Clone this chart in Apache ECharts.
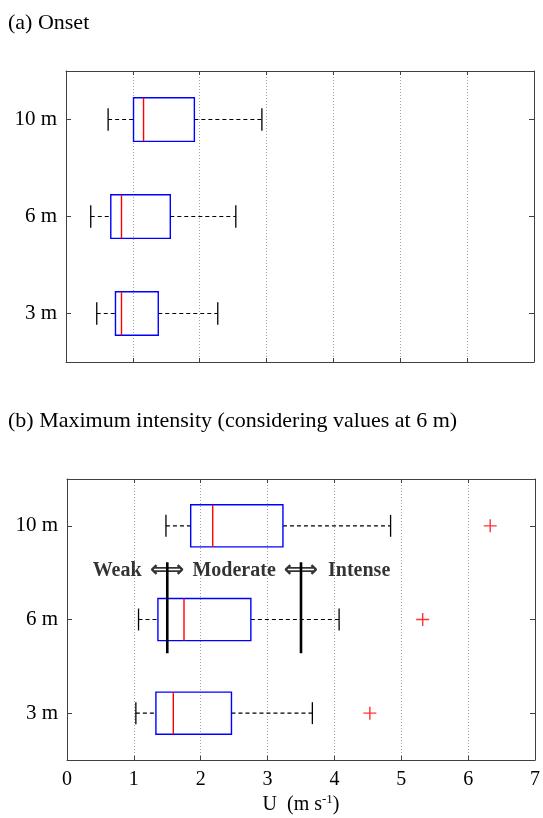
<!DOCTYPE html>
<html>
<head>
<meta charset="utf-8">
<script src="https://cdn.jsdelivr.net/npm/echarts@6/dist/echarts.min.js"></script>
<style>
  html, body { margin: 0; padding: 0; background: #ffffff; }
  #chart { width: 543px; height: 818px; }
</style>
</head>
<body>
<div id="chart"></div>
<script>
// Measurement heights (bottom to top on the category axis)
const heights = ['3 m', '6 m', '10 m'];

// Box statistics per height: [lower whisker, Q1, median, Q3, upper whisker], m/s
const onsetStats = [
  [0.46, 0.74, 0.83, 1.38, 2.27],
  [0.37, 0.67, 0.83, 1.56, 2.54],
  [0.63, 1.01, 1.16, 1.92, 2.93]
];
const peakStats = [
  [1.03, 1.33, 1.59, 2.46, 3.67],
  [1.07, 1.36, 1.75, 2.75, 4.07],
  [1.48, 1.85, 2.18, 3.23, 4.84]
];
// Outliers of the maximum-intensity distributions, one per height
const peakOutliers = [4.53, 5.32, 6.33];

// Intensity class limits (values at 6 m) and class names
const thresholds = [1.5, 3.5];
const classNames = ['Weak', 'Moderate', 'Intense'];

const SERIF = '"Liberation Serif", "Times New Roman", serif';
const FRAME = '#404040';

function boxRenderer(params, api) {
  const cat = api.value(0);
  const band = api.size([0, 1])[1];
  const bh = band * 0.225;   // half box height
  const ch = band * 0.117;   // half cap height
  const lo = api.coord([api.value(1), cat]);
  const q1 = api.coord([api.value(2), cat]);
  const md = api.coord([api.value(3), cat]);
  const q3 = api.coord([api.value(4), cat]);
  const hi = api.coord([api.value(5), cat]);
  const y = lo[1];
  const dashed = { stroke: '#000', lineWidth: 1.1, lineDash: [4, 3] };
  const solid = { stroke: '#000', lineWidth: 1.3 };
  return {
    type: 'group',
    children: [
      { type: 'line', shape: { x1: lo[0], y1: y, x2: q1[0], y2: y }, style: dashed },
      { type: 'line', shape: { x1: q3[0], y1: y, x2: hi[0], y2: y }, style: dashed },
      { type: 'line', shape: { x1: lo[0], y1: y - ch, x2: lo[0], y2: y + ch }, style: solid },
      { type: 'line', shape: { x1: hi[0], y1: y - ch, x2: hi[0], y2: y + ch }, style: solid },
      { type: 'rect', shape: { x: q1[0], y: y - bh, width: q3[0] - q1[0], height: 2 * bh },
        style: { fill: 'none', stroke: '#0000ff', lineWidth: 1.4 } },
      { type: 'line', shape: { x1: md[0], y1: y - bh, x2: md[0], y2: y + bh },
        style: { stroke: '#ff0000', lineWidth: 1.4 } }
    ]
  };
}

function valueAxis(gridIndex, position, showLabels) {
  return {
    type: 'value', gridIndex: gridIndex, position: position,
    min: 0, max: 7, interval: 1,
    axisLine: { show: true, onZero: false, lineStyle: { color: FRAME, width: 1 } },
    axisTick: { show: true, inside: true, length: 4, lineStyle: { color: FRAME } },
    axisLabel: showLabels
      ? { show: true, margin: 10, fontFamily: SERIF, fontSize: 20, color: '#000', showMaxLabel: true, showMinLabel: true }
      : { show: false },
    splitLine: position === 'bottom'
      ? { show: true, lineStyle: { color: '#a0a0a0', type: [1, 2], width: 1 } }
      : { show: false }
  };
}

function categoryAxis(gridIndex, position) {
  return {
    type: 'category', gridIndex: gridIndex, position: position,
    data: heights, boundaryGap: true,
    axisLine: { show: true, onZero: false, lineStyle: { color: FRAME, width: 1 } },
    axisTick: { show: true, inside: true, length: 5, alignWithLabel: true, lineStyle: { color: FRAME } },
    axisLabel: position === 'left'
      ? { show: true, margin: 9, fontFamily: SERIF, fontSize: 21, color: '#000' }
      : { show: false },
    splitLine: { show: false }
  };
}

const xAxis = [
  valueAxis(0, 'bottom', false),
  valueAxis(0, 'top', false),
  Object.assign(valueAxis(1, 'bottom', true), {
    name: '{n|U  (m s}{s|-1}{n|)}',
    nameLocation: 'middle',
    nameGap: 33,
    nameTextStyle: {
      rich: {
        n: { fontFamily: SERIF, fontSize: 20, color: '#000', lineHeight: 24 },
        s: { fontFamily: SERIF, fontSize: 13, color: '#000', lineHeight: 14, verticalAlign: 'top' }
      }
    }
  }),
  valueAxis(1, 'top', false)
];

const yAxis = [
  categoryAxis(0, 'left'),
  categoryAxis(0, 'right'),
  categoryAxis(1, 'left'),
  categoryAxis(1, 'right'),
  // continuous companion of the lower category axis (category i sits at i + 1)
  { type: 'value', gridIndex: 1, min: 0.5, max: 3.5, show: false }
];

const classLabelY = 2.52;
const classLabels = [
  { value: [0.75, classLabelY], name: classNames[0] },
  { value: [2.5, classLabelY], name: classNames[1] },
  { value: [4.37, classLabelY], name: classNames[2] }
];
const arrowLabels = thresholds.map(t => ({ value: [t, classLabelY], name: '\u27FA' }));

const series = [
  {
    type: 'custom', xAxisIndex: 0, yAxisIndex: 0,
    renderItem: boxRenderer,
    encode: { x: [1, 2, 3, 4, 5], y: 0 },
    data: onsetStats.map((s, i) => [i].concat(s)),
    z: 3
  },
  {
    type: 'custom', xAxisIndex: 2, yAxisIndex: 2,
    renderItem: boxRenderer,
    encode: { x: [1, 2, 3, 4, 5], y: 0 },
    data: peakStats.map((s, i) => [i].concat(s)),
    z: 3
  },
  {
    type: 'scatter', xAxisIndex: 2, yAxisIndex: 2,
    symbol: 'path://M0,5L10,5M5,0L5,10',
    symbolSize: 13,
    itemStyle: { color: 'none', borderColor: '#ff0000', borderWidth: 1.4 },
    data: peakOutliers.map((v, i) => [v, i]),
    z: 4
  }
].concat(thresholds.map(t => ({
  type: 'line', xAxisIndex: 2, yAxisIndex: 4,
  symbol: 'none',
  lineStyle: { color: '#000', width: 2.6 },
  data: [[t, 1.64], [t, 2.61]],
  z: 5
}))).concat([
  {
    type: 'scatter', xAxisIndex: 2, yAxisIndex: 4,
    symbolSize: 0,
    silent: true,
    label: {
      show: true, position: 'inside', formatter: '{b}',
      fontFamily: SERIF, fontWeight: 'bold', fontSize: 20, color: '#000'
    },
    data: classLabels,
    z: 6
  },
  {
    type: 'scatter', xAxisIndex: 2, yAxisIndex: 4,
    symbolSize: 0,
    silent: true,
    label: {
      show: true, position: 'inside', formatter: '{b}',
      fontFamily: '"DejaVu Sans", sans-serif', fontWeight: 'bold', fontSize: 24, color: '#000'
    },
    data: arrowLabels,
    z: 6
  }
]);

const chart = echarts.init(document.getElementById('chart'), null, { renderer: 'canvas' });
chart.setOption({
  backgroundColor: '#ffffff',
  animation: false,
  title: [
    { text: '(a) Onset', left: 8, top: 12, padding: 0,
      textStyle: { fontFamily: SERIF, fontSize: 22, fontWeight: 'normal', color: '#000' } },
    { text: '(b) Maximum intensity (considering values at 6 m)', left: 8, top: 410, padding: 0,
      textStyle: { fontFamily: SERIF, fontSize: 22, fontWeight: 'normal', color: '#000' } }
  ],
  grid: [
    { left: 66, top: 71, width: 468, height: 291, containLabel: false },
    { left: 67, top: 479, width: 470, height: 281, containLabel: false }
  ],
  xAxis: xAxis,
  yAxis: yAxis,
  series: series
});
</script>
</body>
</html>
